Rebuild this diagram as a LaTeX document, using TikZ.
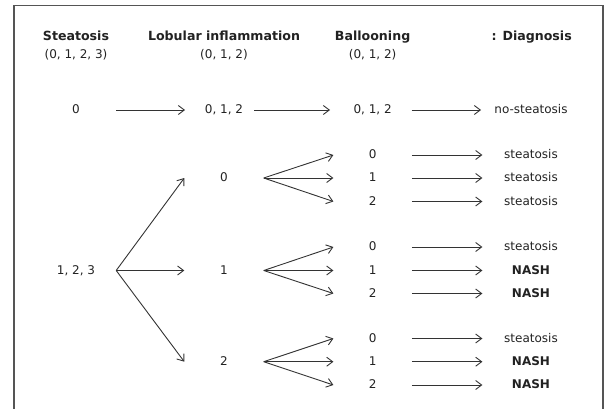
\documentclass[tikz,border=0pt]{standalone}
\usepackage{fontspec}
\setmainfont{DejaVu Sans}
\usetikzlibrary{arrows.meta}
\definecolor{ink}{HTML}{222222}
\definecolor{linec}{HTML}{333333}
\definecolor{framec}{HTML}{555555}
\tikzset{
  txt/.style={inner sep=0pt, text height=0.73em, text depth=0pt, text=ink, font=\fontsize{12}{14}\selectfont},
  hdr/.style={txt, font=\fontsize{12.6}{15}\selectfont\bfseries},
  nash/.style={txt, font=\fontsize{12}{14}\selectfont\bfseries, minimum width=96.8pt},
  dgn/.style={txt, minimum width=96.8pt},
  bal/.style={txt, minimum width=78pt},
  lob/.style={txt, minimum width=79pt},
  ste/.style={txt, minimum width=80pt},
  arr/.style={draw=linec, line width=0.9pt, -{Straight Barb[length=6pt,width=9pt,line width=0.9pt]}},
}
\begin{document}
\begin{tikzpicture}[x=1pt,y=-1pt]
\useasboundingbox (0,0) rectangle (605,409);
\draw[framec, line width=1.2pt] (14,412) -- (14,5.5) -- (603,5.5) -- (603,412);

% headers
\node[hdr] (hS) at (76,37) {Steatosis};
\node[hdr] (hL) at (224,37) {Lobular inflammation};
\node[hdr] (hB) at (372.6,37) {Ballooning};
\node[hdr, anchor=east] (hD) at (572,37) {: Diagnosis};
\node[txt] (rS) at (76,55) {(0, 1, 2, 3)};
\node[txt] (rL) at (224,55) {(0, 1, 2)};
\node[txt] (rB) at (372.6,55) {(0, 1, 2)};

% row 0
\node[txt] (s0) at (76,110) {0};
\node[txt] (l012) at (224,110) {0, 1, 2};
\node[txt] (b012) at (372.6,110) {0, 1, 2};
\node[txt] (nost) at (531,110) {no-steatosis};
\draw[arr, shorten <=40pt, shorten >=39pt] (s0.center) -- (l012.center);
\draw[arr, shorten <=30pt, shorten >=42.6pt] (l012.center) -- (b012.center);
\draw[arr, shorten <=39pt, shorten >=50pt] (b012.center) -- (nost.center);

% steatosis 1,2,3
\node[ste] (s123) at (76,270.5) {1, 2, 3};

% lobular
\node[lob] (l0) at (224,178) {0};
\node[lob] (l1) at (224,270.5) {1};
\node[lob] (l2) at (224,361.7) {2};
\draw[arr] (s123.east) -- (l0.west);
\draw[arr] (s123.east) -- (l1.west);
\draw[arr] (s123.east) -- (l2.west);

% group 1
\node[bal] (b00) at (372.6,155) {0};
\node[bal] (b01) at (372.6,178) {1};
\node[bal] (b02) at (372.6,201.5) {2};
\node[dgn] (d00) at (531,155) {steatosis};
\node[dgn] (d01) at (531,178) {steatosis};
\node[dgn] (d02) at (531,201.5) {steatosis};
\foreach \i in {0,1,2}{
  \draw[arr] (l0.east) -- (b0\i.west);
  \draw[arr] (b0\i.east) -- (d0\i.west);
}

% group 2
\node[bal] (b10) at (372.6,247) {0};
\node[bal] (b11) at (372.6,270.5) {1};
\node[bal] (b12) at (372.6,293.5) {2};
\node[dgn] (d10) at (531,247) {steatosis};
\node[nash] (d11) at (531,270.5) {NASH};
\node[nash] (d12) at (531,293.5) {NASH};
\foreach \i in {0,1,2}{
  \draw[arr] (l1.east) -- (b1\i.west);
  \draw[arr] (b1\i.east) -- (d1\i.west);
}

% group 3
\node[bal] (b20) at (372.6,338.5) {0};
\node[bal] (b21) at (372.6,361.7) {1};
\node[bal] (b22) at (372.6,385) {2};
\node[dgn] (d20) at (531,338.5) {steatosis};
\node[nash] (d21) at (531,361.7) {NASH};
\node[nash] (d22) at (531,385) {NASH};
\foreach \i in {0,1,2}{
  \draw[arr] (l2.east) -- (b2\i.west);
  \draw[arr] (b2\i.east) -- (d2\i.west);
}
\end{tikzpicture}
\end{document}
